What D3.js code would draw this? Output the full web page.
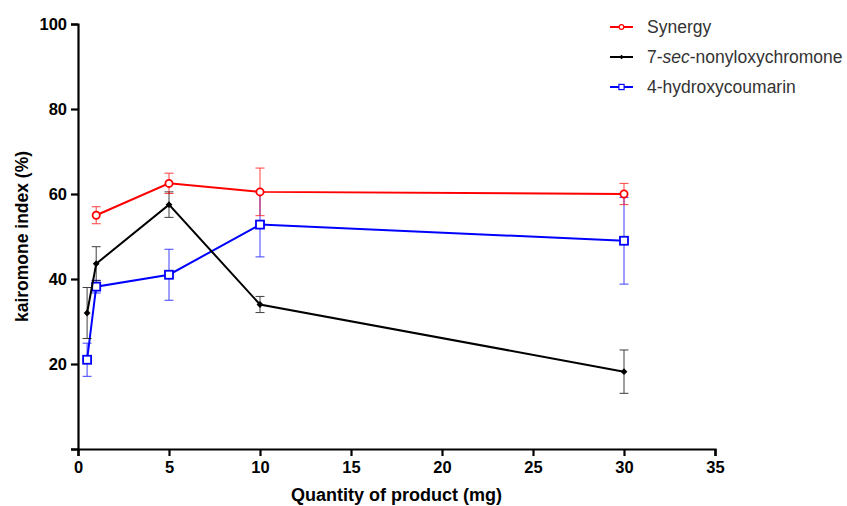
<!DOCTYPE html>
<html>
<head>
<meta charset="utf-8">
<script src="https://cdn.jsdelivr.net/npm/d3@7"></script>
<style>
  body { margin: 0; background: #fff; }
  svg { display: block; }
</style>
</head>
<body>
<div id="chart"></div>
<script>
///// DATA /////
var xTicks = [0, 5, 10, 15, 20, 25, 30, 35];
var yTicks = [0, 20, 40, 60, 80, 100];

var synergyX = [1, 5, 10, 30];
var synergyMean = [55, 62.5, 60.5, 60];
var synergyErr = [2, 2.4, 5.6, 2.5];

var chromoneX = [0.5, 1, 5, 10, 30];
var chromoneMean = [32, 43.6, 57.5, 34, 18.2];
var chromoneErr = [6, 4, 3, 1.9, 5.1];

var coumarinX = [0.5, 1, 5, 10, 30];
var coumarinMean = [21, 38.2, 41, 52.8, 49];
var coumarinErr = [3.9, 1.5, 6, 7.6, 10.2];

var seriesNames = ["Synergy", "7-sec-nonyloxychromone", "4-hydroxycoumarin"];
var seriesColors = ["#ff0000", "#000000", "#0000ff"];

///// DIMENSIONS /////
var W = 847, H = 506;
var margins = { left: 78, right: 132, top: 24, bottom: 57 };
var width = W - margins.left - margins.right,
    height = H - margins.top - margins.bottom;

var svg = d3.select('#chart').append('svg')
  .attr('width', W).attr('height', H);

var xScale = d3.scaleLinear().domain([0, 35]).range([margins.left, margins.left + width]);
var yScale = d3.scaleLinear().domain([0, 100]).range([margins.top + height, margins.top]);

var font = '"Liberation Sans", Arial, sans-serif';

///// AXES /////
var xAxis = svg.append('g')
  .attr('transform', `translate(0,${yScale(0)})`)
  .call(d3.axisBottom(xScale).tickValues(xTicks).tickSizeOuter(0).tickSize(7).tickPadding(5));
var yAxis = svg.append('g')
  .attr('transform', `translate(${xScale(0)},0)`)
  .call(d3.axisLeft(yScale).tickValues(yTicks).tickSizeOuter(0).tickSize(7).tickPadding(4)
    .tickFormat(d => d === 0 ? '' : d));

[xAxis, yAxis].forEach(function(a) {
  a.select('.domain').attr('stroke', '#000').attr('stroke-width', 2.2);
  a.selectAll('.tick line').attr('stroke', '#000').attr('stroke-width', 2.2);
  a.selectAll('.tick text')
    .attr('fill', '#000')
    .style('font-family', font)
    .style('font-weight', 'bold')
    .style('font-size', '16.5px');
});

svg.append('text')
  .attr('x', xScale(17.5)).attr('y', 501)
  .attr('text-anchor', 'middle')
  .style('font-family', font).style('font-weight', 'bold').style('font-size', '18px')
  .text('Quantity of product (mg)');

svg.append('text')
  .attr('transform', `translate(28,${yScale(50)}) rotate(-90)`)
  .attr('text-anchor', 'middle')
  .style('font-family', font).style('font-weight', 'bold').style('font-size', '17.5px')
  .text('kairomone index (%)');

///// SERIES /////
function makeRows(xs, means, errs) {
  return xs.map((x, i) => ({ x: x, y: means[i], e: errs[i] }));
}
var series = [
  { name: seriesNames[2], color: seriesColors[2], marker: 'square', rows: makeRows(coumarinX, coumarinMean, coumarinErr) },
  { name: seriesNames[1], color: seriesColors[1], marker: 'diamond', rows: makeRows(chromoneX, chromoneMean, chromoneErr) },
  { name: seriesNames[0], color: seriesColors[0], marker: 'circle', rows: makeRows(synergyX, synergyMean, synergyErr) }
];

var line = d3.line().x(d => xScale(d.x)).y(d => yScale(d.y));

function drawMarker(g, type, color, k) {
  k = k || 1;
  if (type === 'circle') {
    g.append('circle').attr('r', 3.6 * k).attr('fill', '#fff')
      .attr('stroke', color).attr('stroke-width', 1.8 * k);
  } else if (type === 'square') {
    g.append('rect').attr('x', -4 * k).attr('y', -4 * k).attr('width', 8 * k).attr('height', 8 * k)
      .attr('fill', '#fff').attr('stroke', color).attr('stroke-width', 1.8 * k);
  } else {
    var r = 3.4 * k;
    g.append('path').attr('d', `M0,${-r}L${r},0L0,${r}L${-r},0Z`).attr('fill', color);
  }
}

series.forEach(function(s) {
  var g = svg.append('g');
  // error bars
  var eb = g.selectAll('.err').data(s.rows).enter().append('g')
    .attr('stroke', s.color).attr('stroke-width', 1).attr('opacity', 0.75);
  eb.append('line')
    .attr('x1', d => xScale(d.x)).attr('x2', d => xScale(d.x))
    .attr('y1', d => yScale(d.y + d.e)).attr('y2', d => yScale(d.y - d.e));
  eb.append('line')
    .attr('x1', d => xScale(d.x) - 4.5).attr('x2', d => xScale(d.x) + 4.5)
    .attr('y1', d => yScale(d.y + d.e)).attr('y2', d => yScale(d.y + d.e));
  eb.append('line')
    .attr('x1', d => xScale(d.x) - 4.5).attr('x2', d => xScale(d.x) + 4.5)
    .attr('y1', d => yScale(d.y - d.e)).attr('y2', d => yScale(d.y - d.e));
  // line
  g.append('path').datum(s.rows)
    .attr('d', line).attr('fill', 'none')
    .attr('stroke', s.color).attr('stroke-width', 2);
  // markers
  g.selectAll('.pt').data(s.rows).enter().append('g')
    .attr('transform', d => `translate(${xScale(d.x)},${yScale(d.y)})`)
    .each(function() { drawMarker(d3.select(this), s.marker, s.color); });
});

///// LEGEND /////
var legendOrder = [series[2], series[1], series[0]];
var legend = svg.selectAll('.legend').data(legendOrder).enter().append('g')
  .attr('transform', (d, i) => `translate(610,${27 + i * 30})`);
legend.append('line').attr('x1', 0).attr('x2', 23)
  .attr('stroke', d => d.color).attr('stroke-width', 2);
legend.each(function(d) {
  var m = d3.select(this).append('g').attr('transform', 'translate(11.5,0)');
  drawMarker(m, d.marker, d.color, 0.65);
});
var legendText = legend.append('text')
  .attr('x', 37).attr('y', 6)
  .style('font-family', font)
  .style('font-size', '17.5px').attr('fill', '#333');
legendText.each(function(d) {
  var t = d3.select(this);
  if (d.name.indexOf('-sec-') >= 0) {
    t.append('tspan').text('7-');
    t.append('tspan').style('font-style', 'italic').text('sec');
    t.append('tspan').text('-nonyloxychromone');
  } else {
    t.text(d.name);
  }
});
</script>
</body>
</html>
